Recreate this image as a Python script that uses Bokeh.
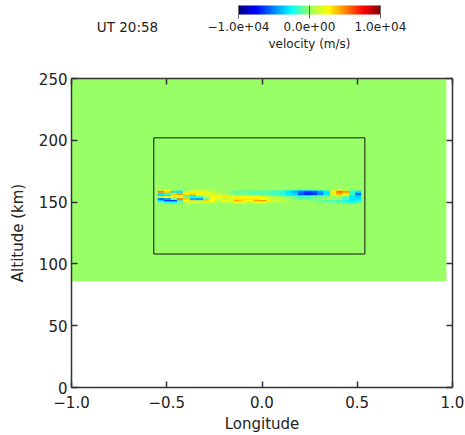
import numpy as np
from bokeh.plotting import figure
from bokeh.models import Range1d, LinearAxis, FixedTicker, ColorBar, LinearColorMapper
from bokeh.layouts import column
from bokeh.embed import file_html
from bokeh.resources import INLINE
from bokeh.core.properties import value

# ---------------- data ----------------
title_text = "UT 20:58"
x_ticks = [-1.0, -0.5, 0.0, 0.5, 1.0]
x_tick_labels = ["\u22121.0", "\u22120.5", "0.0", "0.5", "1.0"]
y_ticks = [0, 50, 100, 150, 200, 250]
cbar_ticks = [-1.0e4, 0.0, 1.0e4]
cbar_tick_labels = ["\u22121.0e+04", "0.0e+00", "1.0e+04"]

domain_lon = [-1.0, 0.968]      # green model domain
domain_alt = [86.0, 250.0]
box_lon = [-0.568, 0.540]       # black box
box_alt = [108.0, 202.0]
field_lon = [-0.547, 0.521]     # velocity field extent
field_alt = [149.0, 160.0]

# velocity (m/s), rows from top (160 km) to bottom (149 km)
vel_rows = [
    [1500, 2500, 500, -1000, -500, 500, 1000, 1000, 500, 0, 0, 0, -500, -500, -500, -500,
     -500, -500, -1000, -1000, -1500, -2000, -2500, -2500, -2000, -1500, -1000, 1500, 2500, 1000, -1000, -500],
    [5000, 3500, -3000, -3000, 2000, 2500, 3000, 2000, 1000, 500, 0, -500, -1000, -1000, -1000, -1500,
     -1000, -1500, -1500, -2000, -3000, -4000, -5500, -6500, -6000, -4500, -3000, 3000, 5500, 4500, -2000, -3000],
    [-3000, -2000, 3500, 4500, 3000, 3500, 2500, 1500, 2000, 1000, 500, 0, -500, -500, -1000, -1000,
     -1000, -1000, -1500, -2000, -3000, -3500, -6000, -7000, -6500, -5000, -3000, 1500, 4000, 3000, -1500, -5500],
    [-3500, -3000, 1500, 3000, 4000, 4500, 3000, 2500, 3000, 2000, 1000, 500, 0, 0, 500, 0,
     -500, -500, -1000, -1500, -2500, -3000, -3500, -3500, -3000, -2500, -2000, 1000, 3000, 2500, -3000, -4000],
    [1000, 2500, 3000, 1500, -1000, -2500, -1500, 1000, 2000, 2500, 3000, 2000, 2000, 2500, 2500, 2500,
     2000, 1000, 500, 0, -500, -1000, -1500, -1500, -1000, -1000, -500, 0, 500, -1000, -3000, -3500],
    [-5500, -4500, -1000, 5000, 3500, -4000, -4500, -1000, 2500, 1500, 1000, 1500, 3000, 3000, 3000, 3000,
     2500, 1500, 1000, 500, 0, -500, -1000, -1000, -500, 0, 500, 500, 0, -1500, -3000, -3000],
    [-3000, -7000, -7500, -2000, 2500, 3000, 1500, 3500, 2500, 1000, 2500, 1500, 4500, 3000, 2500, 4500,
     5000, 3000, 1500, 1000, 500, 0, 0, 0, -500, -1000, -1500, -1500, -2000, -2500, -3000, -2500],
    [-1000, -2000, -2500, -1000, 1000, 1500, 1000, 1500, 1000, 500, 1000, 1000, 2000, 1500, 1000, 2000,
     2000, 1000, 500, 500, 0, 0, 0, 0, 0, -500, -500, -1000, -1000, -1500, -2000, -1000],
]

# ---------------- style ----------------
FONT = "DejaVu Sans"
TXT = "#222222"
AX = "#333333"
BG_GREEN = "#99FF66"
L, R, T, B = 71, 13, 78, 48
W, H = 465, 435

stops = [(0.0, (0, 0, 130)), (0.12, (0, 0, 255)), (0.37, (0, 255, 255)),
         (0.5, (153, 255, 102)), (0.63, (255, 255, 0)), (0.88, (255, 0, 0)), (1.0, (128, 0, 0))]
palette = []
for i in range(256):
    t = i / 255
    for (t0, c0), (t1, c1) in zip(stops[:-1], stops[1:]):
        if t0 <= t <= t1:
            f = (t - t0) / (t1 - t0)
            c = [int(round(a + (b - a) * f)) for a, b in zip(c0, c1)]
            palette.append("#%02x%02x%02x" % tuple(c))
            break
mapper = LinearColorMapper(palette=palette, low=-1.0e4, high=1.0e4)

# ---------------- top strip (title + colorbar) ----------------
TOP_H = 60
top = figure(width=W, height=TOP_H, x_range=Range1d(L, W - R), y_range=Range1d(0, TOP_H),
             output_backend="svg", toolbar_location=None,
             min_border_left=L, min_border_right=R, min_border_top=0, min_border_bottom=0,
             x_axis_location=None, y_axis_location=None)
top.outline_line_color = None
top.xgrid.visible = False
top.ygrid.visible = False
top.text(x=[127], y=[TOP_H - 26], text=[title_text], text_font=value(FONT),
         text_font_size="13.5px", text_color=TXT, text_align="center", text_baseline="middle")
top.text(x=[309], y=[TOP_H - 43], text=["velocity (m/s)"], text_font=value(FONT),
         text_font_size="12px", text_color=TXT, text_align="center", text_baseline="middle")

cb = ColorBar(color_mapper=mapper, orientation="horizontal", width=142, height=9,
              ticker=FixedTicker(ticks=cbar_ticks),
              major_label_overrides={k: v for k, v in zip(cbar_ticks, cbar_tick_labels)},
              major_label_text_font=FONT, major_label_text_font_size="12px",
              major_label_text_color=TXT, label_standoff=3,
              major_tick_in=9, major_tick_out=4, major_tick_line_color="#666666",
              minor_tick_line_color=None, bar_line_color=None,
              border_line_color=None, background_fill_color=None,
              padding=0, margin=0, location=(238 - L, 27))
top.add_layout(cb, "center")

# ---------------- main plot ----------------
p = figure(width=W, height=H - TOP_H, x_range=Range1d(-1.0, 1.0), y_range=Range1d(0, 250),
           output_backend="svg", toolbar_location=None,
           min_border_left=L, min_border_right=R, min_border_top=T - TOP_H, min_border_bottom=B)
p.outline_line_color = None
p.xgrid.visible = False
p.ygrid.visible = False

p.quad(left=[domain_lon[0]], right=[domain_lon[1]], bottom=[domain_alt[0]], top=[domain_alt[1]],
       fill_color=BG_GREEN, line_color=None)
grid = np.flipud(np.array(vel_rows, dtype=float))
p.image(image=[grid], x=field_lon[0], y=field_alt[0], dw=field_lon[1] - field_lon[0],
        dh=field_alt[1] - field_alt[0], color_mapper=mapper)
p.quad(left=[box_lon[0]], right=[box_lon[1]], bottom=[box_alt[0]], top=[box_alt[1]],
       fill_color=None, line_color="#111111", line_width=1)

p.add_layout(LinearAxis(), "above")
p.add_layout(LinearAxis(), "right")

for ax in p.xaxis:
    ax.ticker = FixedTicker(ticks=x_ticks)
for ax in p.yaxis:
    ax.ticker = FixedTicker(ticks=y_ticks)

for ax in p.axis:
    ax.axis_line_color = AX
    ax.axis_line_width = 1.5
    ax.major_tick_line_color = AX
    ax.major_tick_line_width = 1.5
    ax.major_tick_in = 6
    ax.major_tick_out = 0
    ax.minor_tick_line_color = None
    ax.major_label_text_font = FONT
    ax.major_label_text_color = TXT
    ax.axis_label_text_font = FONT
    ax.axis_label_text_color = TXT
    ax.axis_label_text_font_style = "normal"

bx = p.below[0]
bx.major_label_overrides = {k: v for k, v in zip(x_ticks, x_tick_labels)}
bx.major_label_text_font_size = "15px"
bx.major_label_standoff = 8
bx.axis_label = "Longitude"
bx.axis_label_text_font_size = "15px"
bx.axis_label_standoff = 4

ly = p.left[0]
ly.major_label_text_font_size = "15px"
ly.major_label_standoff = 4
ly.axis_label = "Altitude (km)"
ly.axis_label_text_font_size = "15px"
ly.axis_label_standoff = 9

tx = p.above[0]
tx.major_label_overrides = {k: "" for k in x_ticks}
tx.major_label_text_font_size = "1px"
tx.major_label_standoff = 0
ry = p.right[0]
ry.major_label_overrides = {k: "" for k in y_ticks}
ry.major_label_text_font_size = "1px"
ry.major_label_standoff = 0

layout = column(top, p, spacing=0)
open("out.html", "w").write(file_html(layout, INLINE))
